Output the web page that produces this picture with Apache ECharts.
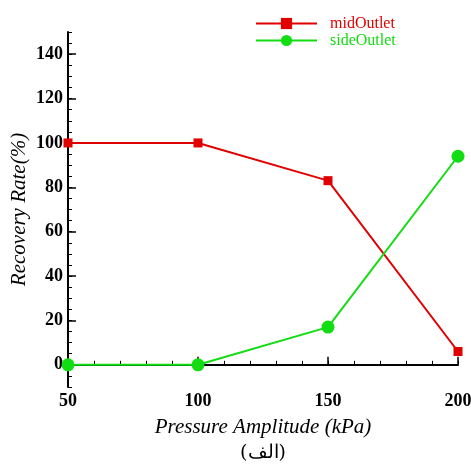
<!DOCTYPE html>
<html><head><meta charset="utf-8">
<script src="https://cdn.jsdelivr.net/npm/echarts@6/dist/echarts.min.js"></script>
<style>html,body{margin:0;padding:0;background:#fff}#c{width:471px;height:465px}</style>
</head><body><div id="c"></div>
<script>
const pressures = [50, 100, 150, 200];
const midOutlet = [100, 100, 83, 6];
const sideOutlet = [0, 0, 17, 94];
const xTickLabels = [50, 100, 150, 200];
const yTickLabels = [0, 20, 40, 60, 80, 100, 120, 140];
const seriesNames = ['midOutlet', 'sideOutlet'];
const xTitle = 'Pressure Amplitude (kPa)';
const yTitle = 'Recovery Rate(%)';
const caption = '(الف)';

const RED = '#e00000', GREEN = '#12dc12';
const serif = '"Liberation Serif", "DejaVu Serif", serif';
const chart = echarts.init(document.getElementById('c'));
const common = {type: 'value', splitLine: {show: false}};
chart.setOption({
  animation: false,
  grid: {left: 68, right: 13, top: 32, bottom: 78, containLabel: false, outerBoundsMode: 'none'},
  legend: {
    orient: 'vertical', left: 255, top: 15, itemWidth: 61, itemHeight: 14, itemGap: 0,
    padding: 0,
    textStyle: {fontFamily: serif, fontSize: 16, padding: [0, 0, 0, 8], lineHeight: 17},
    data: [
      {name: seriesNames[0], textStyle: {color: RED}},
      {name: seriesNames[1], textStyle: {color: GREEN}}
    ]
  },
  xAxis: [
    Object.assign({}, common, {
      min: 50, max: 200, interval: 10,
      name: xTitle, nameLocation: 'middle', nameGap: 30,
      nameTextStyle: {fontFamily: serif, fontStyle: 'italic', fontSize: 21, color: '#000'},
      axisLine: {lineStyle: {color: '#000', width: 2}},
      axisTick: {inside: true, length: 4, lineStyle: {color: '#000', width: 1}},
      axisLabel: {customValues: xTickLabels, fontFamily: serif, fontWeight: 'bold', fontSize: 18, color: '#000', margin: 5, showMaxLabel: true}
    }),
    Object.assign({}, common, {
      min: 50, max: 200, interval: 50, position: 'bottom',
      axisLine: {show: false},
      axisTick: {inside: true, length: 8, lineStyle: {color: '#000', width: 1.5}},
      axisLabel: {show: false}
    })
  ],
  yAxis: [
    Object.assign({}, common, {
      min: -10, max: 150, interval: 5,
      name: yTitle, nameLocation: 'middle', nameGap: 38, nameMoveOverlap: false,
      nameTextStyle: {fontFamily: serif, fontStyle: 'italic', fontSize: 21, color: '#000'},
      axisLine: {lineStyle: {color: '#000', width: 2}},
      axisTick: {inside: true, length: 4, lineStyle: {color: '#000', width: 1}},
      axisLabel: {customValues: yTickLabels, fontFamily: serif, fontWeight: 'bold', fontSize: 18, color: '#000', margin: 5}
    }),
    Object.assign({}, common, {
      min: -10, max: 150, position: 'left',
      axisLine: {show: false},
      axisTick: {inside: true, length: 8, customValues: yTickLabels, lineStyle: {color: '#000', width: 1.5}},
      axisLabel: {show: false}
    })
  ],
  series: [
    {name: seriesNames[0], type: 'line', data: pressures.map((p, i) => [p, midOutlet[i]]),
     symbol: 'rect', symbolSize: 9, color: RED, lineStyle: {width: 2, color: RED}, itemStyle: {color: RED}},
    {name: seriesNames[1], type: 'line', data: pressures.map((p, i) => [p, sideOutlet[i]]),
     symbol: 'circle', symbolSize: 13, color: GREEN, lineStyle: {width: 2, color: GREEN}, itemStyle: {color: GREEN}}
  ],
  graphic: [{type: 'text', x: 263, y: 453,
    style: {text: caption, font: '19px "DejaVu Serif", serif', fill: '#000', align: 'center', verticalAlign: 'middle'}}]
});
</script></body></html>
